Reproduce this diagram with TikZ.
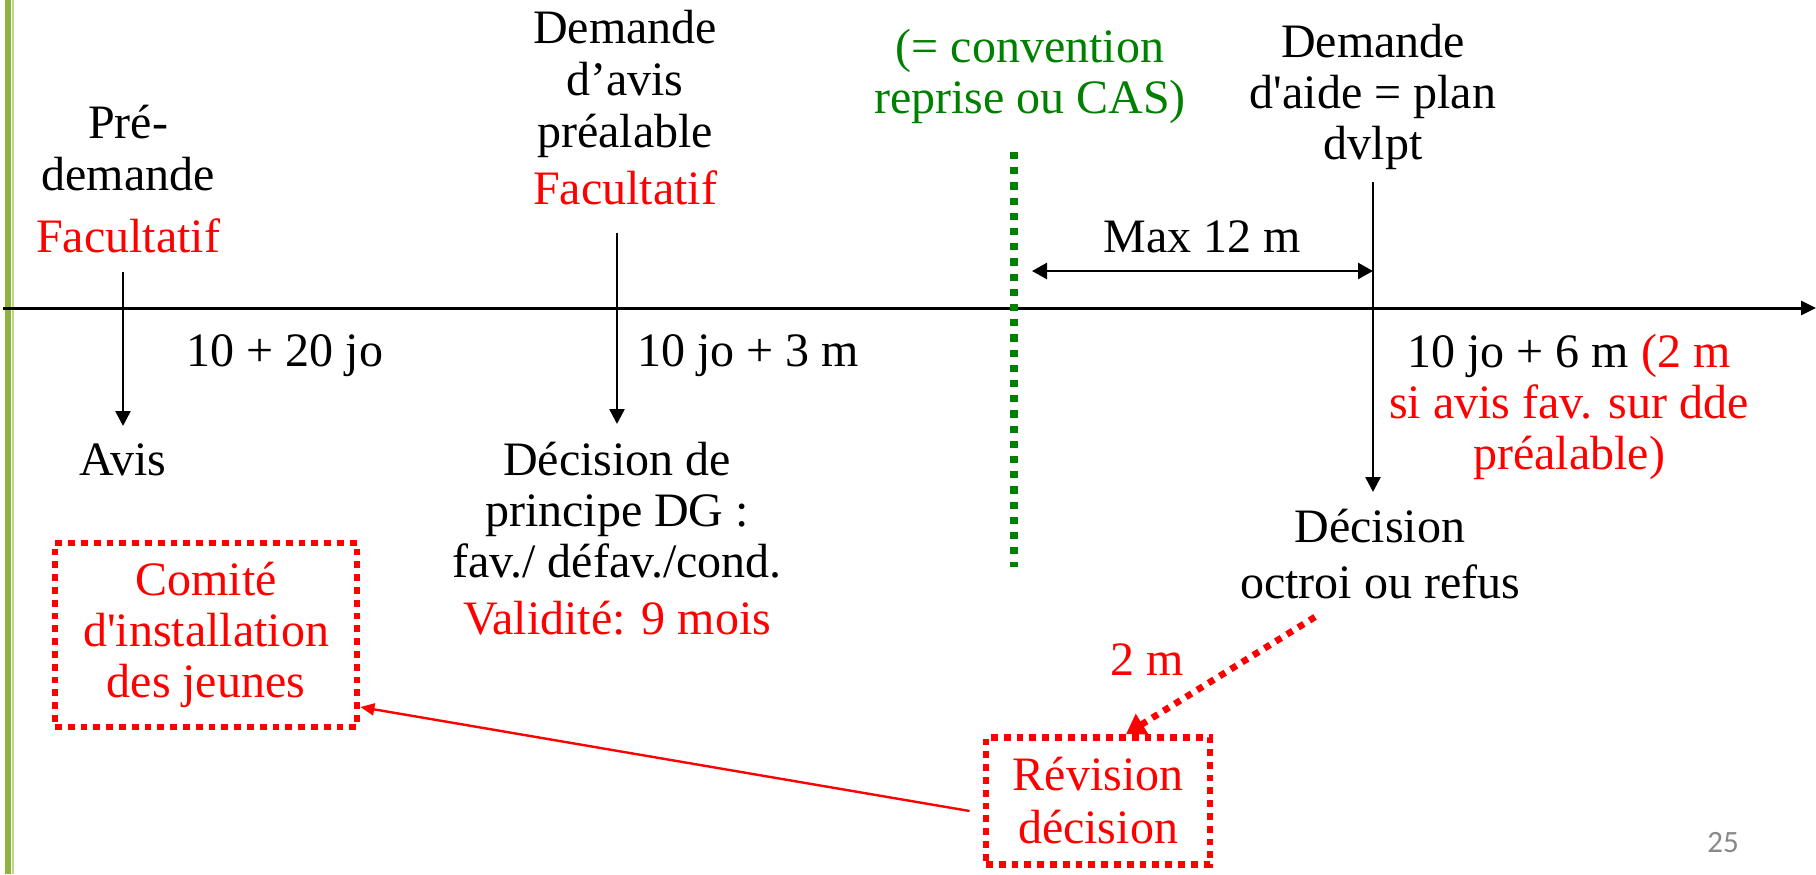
\documentclass[tikz,border=0pt]{standalone}
\usepackage{fontspec}
\setmainfont{Liberation Serif}
\newfontfamily\numfont{Carlito}
\usetikzlibrary{arrows.meta,positioning,calc}
\definecolor{bargreen}{RGB}{140,180,60}
\definecolor{barlight}{RGB}{190,215,140}
\definecolor{convgreen}{RGB}{0,128,0}
\definecolor{numgray}{RGB}{137,137,137}

\begin{document}
\begin{tikzpicture}[x=0.5pt,y=-0.5pt,
    txt/.style={align=center,inner sep=0pt,font=\fontsize{24}{26}\selectfont},
    jalon/.style={-{Triangle[length=7.5pt,width=7.5pt]},line width=1.3pt},
    redbox/.style={draw=red,line width=3.4pt,dash pattern=on 3.4pt off 3pt,
        text=red,align=center,inner sep=0pt,font=\fontsize{24}{25.5}\selectfont}]
    \useasboundingbox (0,0) rectangle (1816,874);
    \fill[white] (0,0) rectangle (1816,874);
    \fill[bargreen] (5,0) rectangle (11,874);
    \fill[barlight] (12,0) rectangle (14,874);

    % axe du temps
    \coordinate (axl) at (3,308);
    \coordinate (axr) at (1816,308);
    \draw[-{Triangle[length=7.5pt,width=7pt]},line width=1.5pt] (axl) -- (axr);

    % etapes
    \node[txt,anchor=north] (pre) at (128,105) {Pré-\\demande\\[5pt]\textcolor{red}{Facultatif}};
    \node[txt,anchor=north] (avis) at (123,443) {Avis};
    \node[txt,anchor=base] (d1) at (285,366) {10 + 20 jo};
    \node[txt,anchor=north] (avisprea) at (625,10) {Demande\\d’avis\\préalable\\[2.5pt]\textcolor{red}{Facultatif}};
    \node[txt,anchor=north,font=\fontsize{24}{25.5}\selectfont] (princ) at (617,442)
        {Décision de\\principe DG :\\fav./ défav./cond.\\[3pt]\textcolor{red}{Validité: 9 mois}};
    \node[txt,anchor=base] (d2) at (748,366) {10 jo + 3 m};
    \node[txt,anchor=north,text=convgreen,font=\fontsize{24}{25.5}\selectfont] (conv) at (1030,29)
        {(= convention\\reprise ou CAS)};
    \node[txt,anchor=north,font=\fontsize{24}{25.5}\selectfont] (aide) at (1373,24)
        {Demande\\d\textquotesingle aide = plan\\dvlpt};
    \node[txt,anchor=base] (max) at (1202,252) {Max 12 m};
    \node[txt,anchor=north,font=\fontsize{24}{25.5}\selectfont] (d3) at (1569,334)
        {10 jo + 6 m \textcolor{red}{(2 m}\\\textcolor{red}{si avis fav. sur dde}\\\textcolor{red}{préalable)}};
    \node[txt,anchor=north,font=\fontsize{24}{28}\selectfont] (octroi) at (1380,509) {Décision\\octroi ou refus};

    % encadres rouges
    \node[redbox,minimum width=151pt,minimum height=92pt] (comite) at (206,635)
        {Comité\\d\textquotesingle installation\\des jeunes};
    \node[redbox,minimum width=112pt,minimum height=63.5pt,font=\fontsize{24}{26.5}\selectfont] (revision) at (1098,801)
        {Révision\\décision};
    \node[txt,anchor=base,text=red] (deux) at (1147,675) {2 m};
    \node[anchor=base,inner sep=0pt,text=numgray,font=\numfont\fontsize{15.5}{18}\selectfont] (num) at (1723,852) {25};

    % fleches
    \draw[jalon] ([yshift=-9pt]pre.south -| avis.north) -- ([yshift=8.5pt]avis.north);
    \draw[jalon] ([yshift=-13.5pt]avisprea.south -| princ.north) -- ([yshift=9pt]princ.north);
    \draw[jalon] ([yshift=-6pt]aide.south) -- ([yshift=8.5pt]aide.south |- octroi.north);

    \coordinate (vt) at (1014,152);
    \coordinate (vb) at (1014,567);
    \draw[convgreen,line width=3.6pt,dash pattern=on 3.6pt off 4pt] (vt) -- (vb);
    \draw[{Triangle[length=7.5pt,width=8pt]}-{Triangle[length=7.5pt,width=8pt]},line width=1.3pt]
        ([xshift=9pt,yshift=-9.5pt]vt |- max.base) -- ([yshift=-9.5pt]aide.south |- max.base);

    \coordinate (rv) at (1315,617);
    \draw[red,line width=3.3pt,dash pattern=on 3.3pt off 3.3pt,-{Triangle[length=9.5pt,width=11.5pt]}]
        (rv) -- ([xshift=14pt]revision.north);
    \draw[red,line width=1.2pt,-{Triangle[length=7pt,width=6pt]}]
        ([xshift=-6.5pt,yshift=-5pt]revision.west) -- ([yshift=-36pt]comite.east);
\end{tikzpicture}
\end{document}
